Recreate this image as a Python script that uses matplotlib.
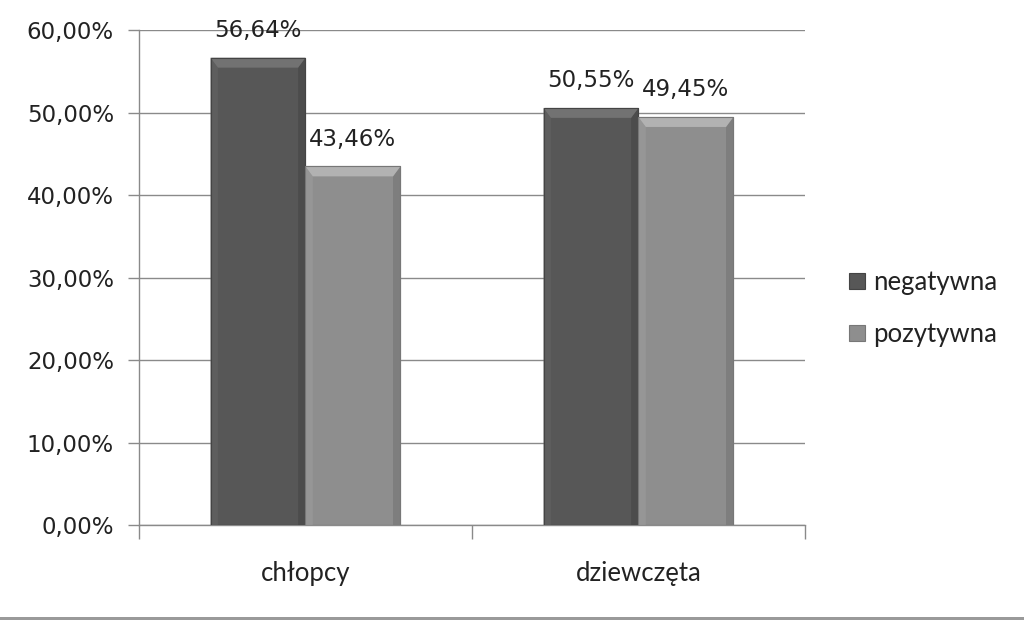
import matplotlib
matplotlib.use("Agg")
import matplotlib.pyplot as plt
from matplotlib.patches import Polygon, Rectangle
from matplotlib.lines import Line2D
import numpy as np

categories = ["chłopcy", "dziewczęta"]
series_names = ["negatywna", "pozytywna"]
negatywna = [56.64, 50.55]
pozytywna = [43.46, 49.45]
value_labels_neg = ["56,64%", "50,55%"]
value_labels_poz = ["43,46%", "49,45%"]
yticks = [0, 10, 20, 30, 40, 50, 60]
ytick_labels = ["0,00%", "10,00%", "20,00%", "30,00%", "40,00%", "50,00%", "60,00%"]

# base, top bevel, right bevel, left bevel, edge
colors = {"negatywna": ("#575757", "#727272", "#4c4c4c", "#5e5e5e", "#444444"),
          "pozytywna": ("#8e8e8e", "#b2b2b2", "#7e7e7e", "#969696", "#777777")}

fig = plt.figure(figsize=(10.24, 6.2), dpi=100)
ax = fig.add_axes([0.1357, 0.1532, 0.6504, 0.7984])

x = np.arange(len(categories))
w = 0.285
bars_n = ax.bar(x - w / 2, negatywna, w, color=colors["negatywna"][0], zorder=3,
                edgecolor=colors["negatywna"][4], linewidth=0.8)
bars_p = ax.bar(x + w / 2, pozytywna, w, color=colors["pozytywna"][0], zorder=3,
                edgecolor=colors["pozytywna"][4], linewidth=0.8)

bev_y = 1.2   # bevel depth in data units (vertical)
bev_x = 0.022  # bevel depth in data units (horizontal)


def bevel(bar, cols):
    base, top_c, right_c, left_c, edge = cols
    x0 = bar.get_x()
    x1 = x0 + bar.get_width()
    h = bar.get_height()
    ax.add_patch(Polygon([(x0, h), (x0 + bev_x, h - bev_y), (x0 + bev_x, 0), (x0, 0)],
                         closed=True, facecolor=left_c, edgecolor="none", zorder=4))
    ax.add_patch(Polygon([(x1, h), (x1 - bev_x, h - bev_y), (x1 - bev_x, 0), (x1, 0)],
                         closed=True, facecolor=right_c, edgecolor="none", zorder=4))
    ax.add_patch(Polygon([(x0, h), (x1, h), (x1 - bev_x, h - bev_y), (x0 + bev_x, h - bev_y)],
                         closed=True, facecolor=top_c, edgecolor="none", zorder=4))
    ax.add_patch(Rectangle((x0, 0), x1 - x0, h, facecolor="none", edgecolor=edge,
                           linewidth=0.8, zorder=4))


for b in bars_n:
    bevel(b, colors["negatywna"])
for b in bars_p:
    bevel(b, colors["pozytywna"])

label_font = "DejaVu Sans"
for bars, labels in ((bars_n, value_labels_neg), (bars_p, value_labels_poz)):
    for b, t in zip(bars, labels):
        ax.text(b.get_x() + b.get_width() / 2, b.get_height() + 1.9, t, ha="center", va="bottom",
                fontsize=16.5, color="#222222", family=label_font, zorder=5)

ax.set_xlim(-0.5, len(categories) - 0.5)
ax.set_ylim(0, 60)
ax.set_yticks(yticks)
ax.set_yticklabels(ytick_labels, family=label_font, fontsize=16.5, color="#222222")
ax.yaxis.grid(True, color="#8a8a8a", linewidth=1.0, zorder=0)
ax.set_axisbelow(True)

ax.set_xticks(np.arange(len(categories) + 1) - 0.5)
ax.set_xticklabels([])
ax.set_xticks(x, minor=True)
ax.set_xticklabels(categories, minor=True, family=["Lato", "DejaVu Sans"], fontsize=18.5,
                   color="#222222")
ax.tick_params(axis="x", which="major", length=10, color="#8a8a8a", width=1.0)
ax.tick_params(axis="x", which="minor", length=0, pad=26)
ax.tick_params(axis="y", length=8, color="#8a8a8a", width=1.0, pad=10)

for s in ["top", "right"]:
    ax.spines[s].set_visible(False)
for s in ["left", "bottom"]:
    ax.spines[s].set_color("#8a8a8a")
    ax.spines[s].set_linewidth(1.0)

handles = [Line2D([0], [0], marker="s", linestyle="none", markersize=11,
                  markerfacecolor=colors[n][0], markeredgecolor=colors[n][4], markeredgewidth=0.8)
           for n in series_names]
leg = fig.legend(handles, series_names, loc="center left", bbox_to_anchor=(0.802, 0.503),
                 frameon=False, prop={"family": ["Lato", "DejaVu Sans"], "size": 18.5},
                 handletextpad=0.1, labelspacing=1.05, handlelength=1.0)
for t in leg.get_texts():
    t.set_color("#222222")

fig.add_artist(Rectangle((0, 0), 1, 0.005, transform=fig.transFigure,
                         facecolor="#9a9a9a", edgecolor="none"))

fig.savefig("out.png", dpi=100)
